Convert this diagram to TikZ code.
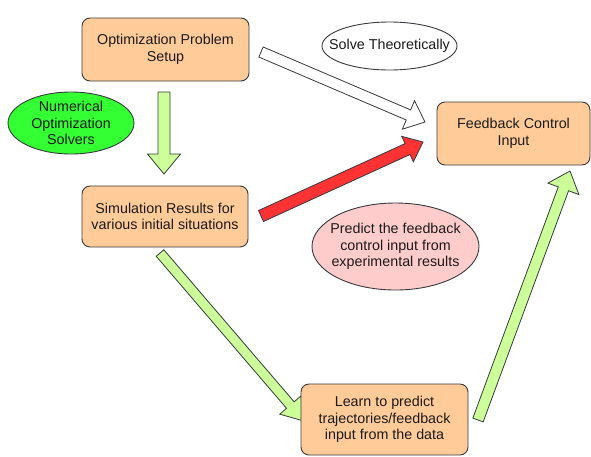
\documentclass[tikz,border=0pt]{standalone}
\usepackage{fontspec}
\setmainfont{Liberation Sans}
\usetikzlibrary{calc,shapes.geometric,backgrounds}
\definecolor{boxfill}{HTML}{FFCC99}
\definecolor{strokec}{HTML}{36393D}
\definecolor{solvergreen}{HTML}{33FF33}
\definecolor{pinkfill}{HTML}{FFCCCC}
\definecolor{arrgreen}{HTML}{CCFF99}
\definecolor{arrred}{HTML}{FF3333}
\definecolor{txt}{HTML}{1A1A1A}
\newcommand\blockarr[6]{%
  \coordinate (#2-hb) at ($(#3)!#6!(#2)$);
  \draw[#1] ($(#2)!#4!90:(#3)$) -- ($(#2-hb)!#4!90:(#3)$) -- ($(#2-hb)!#5!90:(#3)$) -- (#3)
    -- ($(#2-hb)!#5!-90:(#3)$) -- ($(#2-hb)!#4!-90:(#3)$) -- ($(#2)!#4!-90:(#3)$) -- cycle;}
\tikzset{
  procbox/.style={draw=strokec, fill=boxfill, line width=0.9pt, rounded corners=8pt,
    align=center, text=txt, font=\fontsize{14.3}{16.7}\selectfont, inner sep=0pt},
  bubbletext/.style={align=center, text=txt, font=\fontsize{14.3}{16.7}\selectfont, inner sep=0pt},
  bubbleline/.style={draw=strokec, line width=0.9pt},
  greenarr/.style={draw=strokec, fill=arrgreen, line width=0.8pt},
  redarr/.style={draw=strokec, fill=arrred, line width=0.8pt},
  whitearr/.style={draw=strokec, fill=white, line width=0.8pt}
}
\begin{document}
\begin{tikzpicture}[x=1pt,y=-1pt]
\useasboundingbox (0,0) rectangle (591,456);
% nodes
\node[procbox, minimum width=167pt, minimum height=63pt] (setup) at (165.5,49.5) {Optimization Problem\\Setup};
\node[procbox, minimum width=166pt, minimum height=61pt] (sim) at (165,216.5) {Simulation Results for\\various initial situations};
\node[procbox, minimum width=153pt, minimum height=63pt] (fb) at (513.5,133.5) {Feedback Control\\Input};
\node[procbox, minimum width=167pt, minimum height=71pt] (learn) at (384.5,419.5) {Learn to predict\\trajectories/feedback\\input from the data};
\node[bubbletext] (num) at (71,123) {Numerical\\Optimization\\Solvers};
\node[bubbletext] (solve) at (389.5,46) {Solve Theoretically};
\node[bubbletext] (pred) at (395.5,246.5) {Predict the feedback\\control input from\\experimental results};
% arrow end points
\coordinate (a1t) at (164,92);   \coordinate (a1h) at (164,174);
\coordinate (a2t) at (261,52);   \coordinate (a2h) at (425,122);
\coordinate (a3t) at (261,216);  \coordinate (a3h) at (423,142);
\coordinate (a4t) at (160,253);  \coordinate (a4h) at (304,421);
\coordinate (a5t) at (478,420);  \coordinate (a5h) at (570,171);
\begin{scope}[on background layer]
\path[bubbleline, fill=solvergreen] (num.center) ellipse [x radius=63, y radius=31];
\path[bubbleline, fill=white] (solve.center) ellipse [x radius=67.5, y radius=24];
\path[bubbleline, fill=pinkfill] (pred.center) ellipse [x radius=83.5, y radius=43.5];
\blockarr{greenarr}{a1t}{a1h}{6pt}{16.5pt}{20pt}
\blockarr{whitearr}{a2t}{a2h}{5.5pt}{15.5pt}{18pt}
\blockarr{redarr}{a3t}{a3h}{6pt}{14pt}{17pt}
\blockarr{greenarr}{a4t}{a4h}{5pt}{14pt}{21pt}
\blockarr{greenarr}{a5t}{a5h}{5.5pt}{16.5pt}{19pt}
\end{scope}
\end{tikzpicture}
\end{document}
